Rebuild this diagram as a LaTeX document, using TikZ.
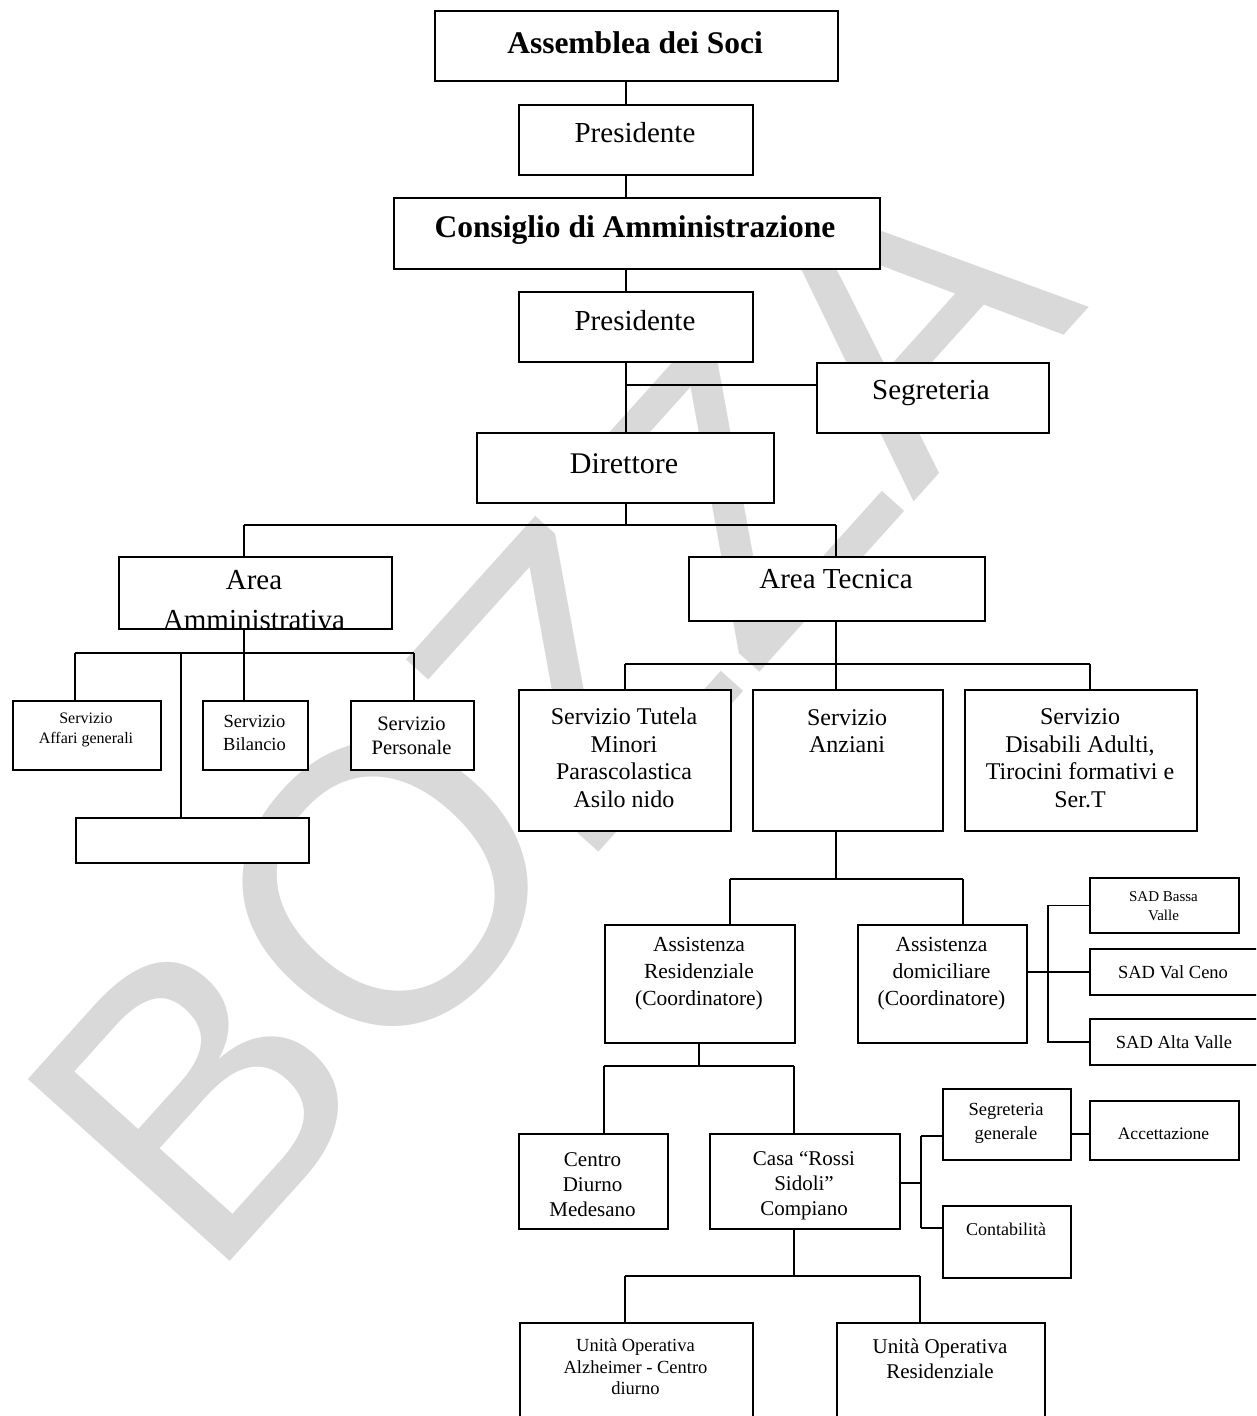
\documentclass[tikz,border=0pt]{standalone}
\usepackage{fontspec}
\setmainfont{Liberation Serif}
\newfontfamily\wmfont{Liberation Sans}
\usetikzlibrary{calc}
\definecolor{wm}{RGB}{217,217,217}
\newcommand\fs[2]{\fontsize{#1}{#2}\selectfont}
\newcommand\orgbox[5]{%
  \pgfmathsetmacro\bw{#4-#2}\pgfmathsetmacro\bh{#5-#3}%
  \node[boxsty, minimum width=\bw pt, minimum height=\bh pt, anchor=north west] (#1) at (#2,#3) {};}
\tikzset{
  boxsty/.style={draw=black, fill=white, line width=1.7pt, inner sep=0pt, rectangle},
  conn/.style={draw=black, line width=1.7pt},
  txt/.style={inner sep=0pt, align=center, text=black}
}
\begin{document}
\begin{tikzpicture}[x=1pt,y=-1pt]
\useasboundingbox (0,0) rectangle (1256,1416);
\clip (0,0) rectangle (1256,1416);
\fill[white] (0,0) rectangle (1256,1416);
% watermark
\node[rotate=48, text=wm, font=\wmfont\fs{395}{395}] (wmark) at (548,705) {BOZZA};
% junction points
\coordinate (sp) at (626,0);
\coordinate (segj) at (626,385);
\coordinate (dj) at (626,525);
\coordinate (aaj) at (244,525);
\coordinate (atj) at (836,525);
\coordinate (amj) at (244,653);
\coordinate (amL) at (75,653);
\coordinate (amR) at (414,653);
\coordinate (amE) at (181,653);
\coordinate (atb) at (836,664);
\coordinate (atL) at (625,664);
\coordinate (atR) at (1090,664);
\coordinate (anj) at (836,879);
\coordinate (anL) at (730,879);
\coordinate (anR) at (963,879);
\coordinate (dmj) at (1048,972);
\coordinate (rsj) at (699,1066);
\coordinate (rsL) at (604,1066);
\coordinate (rsR) at (794,1066);
\coordinate (csj) at (921,1183);
\coordinate (csT) at (921,1136);
\coordinate (csB) at (921,1228);
\coordinate (sgj) at (1080,1134);
\coordinate (cbj) at (794,1276);
\coordinate (cbL) at (625,1276);
\coordinate (cbR) at (920,1276);
% boxes
\orgbox{ass}{434}{10}{837}{80}
\orgbox{pres1}{518}{104}{752}{174}
\orgbox{cda}{393}{197}{879}{268}
\orgbox{pres2}{518}{291}{752}{361}
\orgbox{segr}{816}{362}{1048}{432}
\orgbox{dir}{476}{432}{773}{502}
\orgbox{aamm}{118}{556}{391}{628}
\orgbox{atec}{688}{556}{984}{620}
\orgbox{affari}{12}{700}{160}{769}
\orgbox{bilancio}{202}{700}{307}{769}
\orgbox{personale}{350}{700}{473}{769}
\orgbox{vuoto}{75}{817}{308}{862}
\orgbox{tutela}{518}{689}{730}{830}
\orgbox{anziani}{752}{689}{942}{830}
\orgbox{disabili}{964}{689}{1196}{830}
\orgbox{resid}{604}{924}{794}{1042}
\orgbox{domic}{857}{924}{1026}{1042}
\orgbox{sadb}{1089}{877}{1238}{932}
\orgbox{sadv}{1089}{948}{1262}{994}
\orgbox{sada}{1089}{1018}{1262}{1064}
\orgbox{centro}{518}{1133}{667}{1228}
\orgbox{casa}{709}{1133}{899}{1228}
\orgbox{seggen}{942}{1088}{1070}{1159}
\orgbox{acc}{1089}{1100}{1238}{1159}
\orgbox{contab}{942}{1205}{1070}{1277}
\orgbox{uoa}{519}{1322}{752}{1424}
\orgbox{uor}{836}{1322}{1044}{1424}
% connectors
\draw[conn] (ass.south -| sp) -- (pres1.north -| sp);
\draw[conn] (pres1.south -| sp) -- (cda.north -| sp);
\draw[conn] (cda.south -| sp) -- (pres2.north -| sp);
\draw[conn] (pres2.south -| sp) -- (dir.north -| sp);
\draw[conn] (segj) -- (segj -| segr.west);
\draw[conn] (dir.south -| dj) -- (dj);
\draw[conn] (aaj) -- (atj);
\draw[conn] (aaj) -- (aamm.north -| aaj);
\draw[conn] (atj) -- (atec.north -| atj);
\draw[conn] (aamm.south -| amj) -- (amj);
\draw[conn] (amL) -- (amR);
\draw[conn] (amL) -- (affari.north -| amL);
\draw[conn] (amj) -- (bilancio.north -| amj);
\draw[conn] (amR) -- (personale.north -| amR);
\draw[conn] (amE) -- (vuoto.north -| amE);
\draw[conn] (atec.south -| atb) -- (atb);
\draw[conn] (atL) -- (atR);
\draw[conn] (atL) -- (tutela.north -| atL);
\draw[conn] (atb) -- (anziani.north -| atb);
\draw[conn] (atR) -- (disabili.north -| atR);
\draw[conn] (anziani.south -| anj) -- (anj);
\draw[conn] (anL) -- (anR);
\draw[conn] (anL) -- (resid.north -| anL);
\draw[conn] (anR) -- (domic.north -| anR);
\draw[conn] (domic.east |- dmj) -- (dmj);
\draw[conn] (sadb.west) -- (sadb.west -| dmj) -- (sada.west -| dmj) -- (sada.west);
\draw[conn] (dmj) -- (dmj -| sadv.west);
\draw[conn] (resid.south -| rsj) -- (rsj);
\draw[conn] (rsL) -- (rsR);
\draw[conn] (rsL) -- (centro.north -| rsL);
\draw[conn] (rsR) -- (casa.north -| rsR);
\draw[conn] (casa.east |- csj) -- (csj);
\draw[conn] (csT) -- (csB);
\draw[conn] (csT) -- (csT -| seggen.west);
\draw[conn] (csB) -- (csB -| contab.west);
\draw[conn] (seggen.east |- sgj) -- (acc.west |- sgj);
\draw[conn] (casa.south -| cbj) -- (cbj);
\draw[conn] (cbL) -- (cbR);
\draw[conn] (cbL) -- (uoa.north -| cbL);
\draw[conn] (cbR) -- (uor.north -| cbR);
% texts
\node[txt, font=\bfseries\fs{31.5}{36}] (tass) at (635,43) {Assemblea dei Soci};
\node[txt, font=\fs{29}{33}] (tpres1) at (635,133) {Presidente};
\node[txt, font=\bfseries\fs{31.5}{36}] (tcda) at (635,230) {Consiglio di Amministrazione};
\node[txt, font=\fs{29}{33}] (tpres2) at (635,321) {Presidente};
\node[txt, font=\fs{29}{33}] (tsegr) at (931,393) {Segreteria};
\node[txt, font=\fs{30}{33}] (tdir) at (624,464) {Direttore};
\begin{scope}
\clip (119,557) rectangle (390,627);
\node[txt, font=\fs{29}{40}] (taamm) at (254,600) {Area\\Amministrativa};
\end{scope}
\node[txt, font=\fs{29}{33}] (tatec) at (836,579) {Area Tecnica};
\node[txt, font=\fs{16}{20}] (taffari) at (86,730) {Servizio\\Affari generali};
\node[txt, font=\fs{18.5}{22.5}] (tbil) at (254.5,733) {Servizio\\Bilancio};
\node[txt, font=\fs{20.5}{24.5}] (tpers) at (411.5,736) {Servizio\\Personale};
\node[txt, font=\fs{24}{27.5}] (ttut) at (624,758) {Servizio Tutela\\Minori\\Parascolastica\\Asilo nido};
\node[txt, font=\fs{24}{27.5}] (tanz) at (847,731) {Servizio\\Anziani};
\node[txt, font=\fs{24}{27.5}] (tdis) at (1080,758) {Servizio\\Disabili Adulti,\\Tirocini formativi e\\Ser.T};
\node[txt, font=\fs{21.5}{27}] (tres) at (699,974) {Assistenza\\Residenziale\\(Coordinatore)};
\node[txt, font=\fs{21.5}{27}] (tdom) at (941.5,974) {Assistenza\\domiciliare\\(Coordinatore)};
\node[txt, font=\fs{15}{18.5}] (tsadb) at (1163.5,906) {SAD Bassa\\Valle};
\node[txt, font=\fs{18.5}{22}] (tsadv) at (1173,972) {SAD Val Ceno};
\node[txt, font=\fs{18.5}{22}] (tsada) at (1174,1042) {SAD Alta Valle};
\node[txt, font=\fs{21}{25}] (tcen) at (592.5,1185) {Centro\\Diurno\\Medesano};
\node[txt, font=\fs{21}{25}] (tcasa) at (804,1186) {Casa “Rossi\\Sidoli”\\Compiano};
\node[txt, font=\fs{18.5}{24}] (tsg) at (1006,1123) {Segreteria\\generale};
\node[txt, font=\fs{17.5}{21}] (tacc) at (1163.5,1134) {Accettazione};
\node[txt, font=\fs{18}{21}] (tcont) at (1006,1229) {Contabilità};
\node[txt, font=\fs{18.5}{21.5}] (tuoa) at (635.5,1367) {Unità Operativa\\Alzheimer - Centro\\diurno};
\node[txt, font=\fs{21}{25}] (tuor) at (940,1359) {Unità Operativa\\Residenziale};
\end{tikzpicture}
\end{document}
